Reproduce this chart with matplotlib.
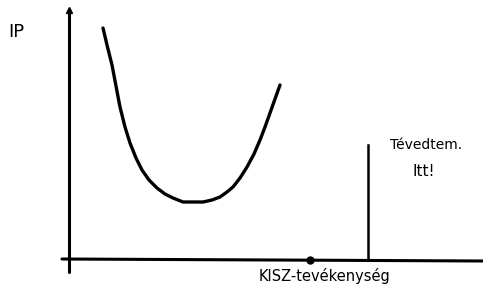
import matplotlib.pyplot as plt

# curve: IP as a function of KISZ activity (hand-drawn U shape)
activity = [34, 38, 43, 47, 51, 56, 61, 67, 73, 80, 88, 96, 104, 114, 124, 134,
            143, 151, 158, 164, 171, 178, 185, 191, 196, 201, 206, 211]
ip = [232, 215, 195, 174, 153, 133, 117, 102, 90, 80, 72, 66, 62, 58, 58, 58,
      60, 63, 68, 73, 82, 93, 106, 120, 133, 147, 161, 175]

mistake_x = 299
mistake_top = 115
dot_x = 241

fig = plt.figure(figsize=(4.83, 2.99), dpi=100)
ax = fig.add_axes([0, 0, 1, 1])
ax.set_xlim(-69, 414)
ax.set_ylim(-39, 260)
ax.axis('off')

# axes drawn by hand
ax.plot([0, 0], [-12, 250], color='black', lw=2.2, solid_capstyle='round')
ax.plot([-7, 414], [1, -1], color='black', lw=2.2, solid_capstyle='round')
ax.plot([0], [250], marker='^', color='black', markersize=4)
ax.plot([dot_x], [0], marker='o', color='black', markersize=5)

# the curve
ax.plot(activity, ip, color='black', lw=2.4, solid_capstyle='round',
        solid_joinstyle='round')

# vertical line "here"
ax.plot([mistake_x, mistake_x], [0, mistake_top], color='black', lw=1.8)

ax.text(-61, 228, 'IP', fontsize=13, ha='left', va='center')
ax.text(321, 115, 'Tévedtem.', fontsize=10, ha='left', va='center')
ax.text(343, 88, 'Itt!', fontsize=11, ha='left', va='center')
ax.text(190, -16, 'KISZ-tevékenység', fontsize=10.5, ha='left', va='center')

fig.savefig('out.png', dpi=100)
